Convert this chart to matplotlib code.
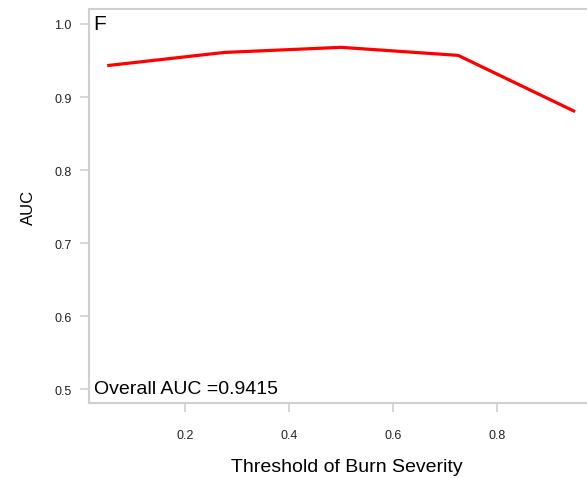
import matplotlib
matplotlib.use("Agg")
import matplotlib.pyplot as plt

# AUC at each burn-severity threshold
thresholds = [0.05, 0.275, 0.5, 0.725, 0.95]
auc_values = [0.943, 0.961, 0.968, 0.957, 0.880]
overall_auc = 0.9415

x_ticks = [0.2, 0.4, 0.6, 0.8]
y_ticks = [0.5, 0.6, 0.7, 0.8, 0.9, 1.0]

GRAY = "#cfcfcf"

plt.rcParams["font.family"] = ["Liberation Sans", "DejaVu Sans"]

fig = plt.figure(figsize=(5.87, 4.85), dpi=100)
W, H = 587, 485
ax = fig.add_axes([89 / W, (H - 404) / H, 1 - 89 / W, (404 - 10) / H])

ax.plot(thresholds, auc_values, color="#ff0000", linewidth=2.3,
        solid_capstyle="butt", solid_joinstyle="round")

ax.set_xlim(0.015, 0.973)
ax.set_ylim(0.481, 1.0205)
ax.set_xticks(x_ticks)
ax.set_xticklabels([f"{t:.1f}" for t in x_ticks])
ax.set_yticks(y_ticks)
ax.set_yticklabels([f"{t:.1f}" for t in y_ticks])

for side in ("left", "bottom", "top"):
    ax.spines[side].set_color(GRAY)
    ax.spines[side].set_linewidth(1.5)
ax.spines["right"].set_visible(False)

ax.tick_params(axis="both", colors=GRAY, labelcolor="#222222",
               length=6.5, width=1.2, labelsize=9)
ax.tick_params(axis="x", pad=12)
ax.tick_params(axis="y", pad=6)

ax.text(0.008, 0.987, "F", transform=ax.transAxes, ha="left", va="top",
        fontsize=15, color="black")
ax.text(0.01, 0.015, f"Overall AUC ={overall_auc}", transform=ax.transAxes,
        ha="left", va="bottom", fontsize=14, color="black")

ax.set_xlabel("Threshold of Burn Severity", fontsize=14)
ax.set_ylabel("AUC", fontsize=12)
ax.xaxis.set_label_coords((347 - 89) / (W - 89), -(468 - 404) / 394)
ax.yaxis.set_label_coords(-(89 - 28) / (W - 89), 0.5)
ax.xaxis.label.set_va("center")
ax.yaxis.label.set_va("center")

fig.savefig("out.png", dpi=100)
